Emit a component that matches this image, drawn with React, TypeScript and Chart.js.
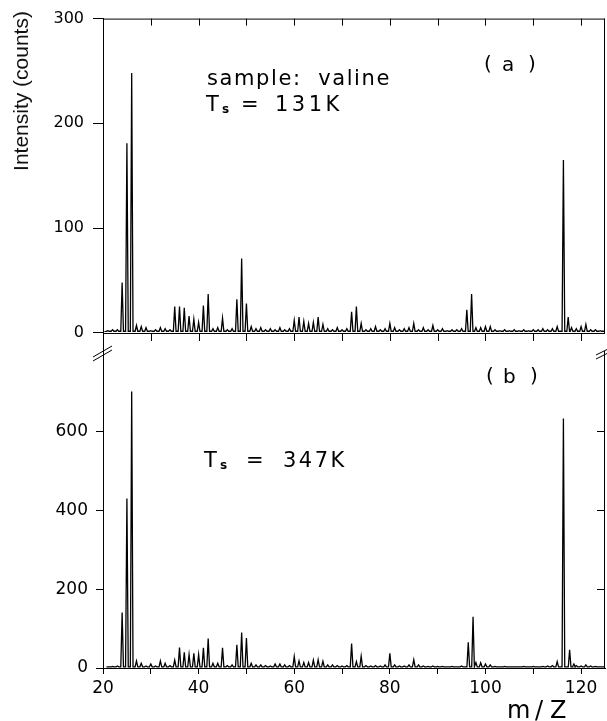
import React, { useEffect, useRef } from 'react';
import { Chart, registerables } from 'chart.js';

Chart.register(...registerables);

// ---- data ----
// panel (a): Ts = 131K
const massA = [
  21, 22, 23, 24, 25, 26, 27, 28, 29, 30,
  31, 32, 33, 34, 35, 36, 37, 38, 39, 40,
  41, 42, 43, 44, 45, 46, 47, 48, 49, 50,
  51, 52, 53, 54, 55, 56, 57, 58, 59, 60,
  61, 62, 63, 64, 65, 66, 67, 68, 69, 70,
  71, 72, 73, 74, 75, 76, 77, 78, 79, 80,
  81, 82, 83, 84, 85, 86, 87, 88, 89, 90,
  91, 92, 93, 94, 95, 96.1, 97.1, 98, 99, 100,
  101, 102, 103, 104, 105, 106, 107, 108, 109, 110,
  111, 112, 113, 114, 115, 116.3, 117.3, 118, 119, 120,
  121, 122, 123, 124,
];
const countsA = [
  2, 3, 3, 48, 181, 248, 7, 6, 5, 2,
  3, 5, 4, 3, 25, 25, 24, 16, 13, 10,
  26, 37, 4, 5, 14, 3, 4, 32, 71, 28,
  6, 4, 5, 3, 4, 3, 5, 3, 4, 12,
  15, 11, 9, 10, 15, 8, 4, 3, 5, 3,
  4, 20, 25, 9, 3, 4, 6, 3, 4, 9,
  5, 3, 4, 5, 9, 3, 5, 3, 7, 3,
  4, 2, 3, 3, 4, 22, 37, 5, 5, 6,
  6, 3, 2, 3, 2, 3, 2, 3, 2, 3,
  3, 4, 3, 4, 6, 165, 15, 5, 4, 6,
  8, 3, 3, 2,
];
// panel (b): Ts = 347K
const massB = [
  21, 22, 23, 24, 25, 26, 27, 28, 29, 30,
  31, 32, 33, 34, 35, 36, 37, 38, 39, 40,
  41, 42, 43, 44, 45, 46, 47, 48, 49, 50,
  51, 52, 53, 54, 55, 56, 57, 58, 59, 60,
  61, 62, 63, 64, 65, 66, 67, 68, 69, 70,
  71, 72, 73, 74, 75, 76, 77, 78, 79, 80,
  81, 82, 83, 84, 85, 86, 87, 88, 89, 90,
  91, 92, 93, 94, 95, 96.4, 97.4, 98, 99, 100,
  101, 102, 103, 104, 105, 106, 107, 108, 109, 110,
  111, 112, 113, 114, 115, 116.3, 117.6, 118.5, 119, 120,
  121, 122, 123, 124,
];
const countsB = [
  3, 4, 5, 141, 430, 701, 18, 12, 5, 10,
  5, 18, 12, 6, 20, 52, 40, 34, 37, 34,
  51, 75, 12, 12, 51, 6, 8, 59, 90, 76,
  12, 8, 8, 6, 5, 10, 10, 8, 6, 29,
  18, 14, 14, 20, 21, 17, 8, 8, 6, 5,
  6, 62, 16, 30, 6, 5, 6, 5, 8, 37,
  8, 5, 5, 8, 21, 8, 5, 4, 5, 4,
  4, 3, 4, 3, 5, 65, 130, 14, 13, 10,
  8, 4, 3, 4, 3, 3, 3, 4, 3, 4,
  3, 4, 5, 6, 16, 633, 46, 10, 6, 5,
  8, 5, 4, 3,
];
const baseA = 1.5;
const baseB = 3;

const xTickValues = [20, 30, 40, 50, 60, 70, 80, 90, 100, 110, 120];
const xLabelValues = [20, 40, 60, 80, 100, 120];
const yTicksA = [0, 100, 200, 300];
const yTicksB = [0, 200, 400, 600];

const FONT = '"DejaVu Sans", "Noto Sans", sans-serif';

function buildTrace(mass: number[], counts: number[], base: number, hw: number) {
  const pts: { x: number; y: number }[] = [{ x: 20.9, y: base }];
  mass.forEach((m, i) => {
    pts.push({ x: m - hw, y: base }, { x: m, y: counts[i] }, { x: m + hw, y: base });
  });
  pts.push({ x: 125, y: base });
  return pts;
}

function drawSpaced(ctx: CanvasRenderingContext2D, text: string, x: number, y: number, sp: number) {
  let cx = x;
  for (const ch of text) {
    ctx.fillText(ch, cx, y);
    cx += ctx.measureText(ch).width + sp;
  }
}

const decor = {
  id: 'decor',
  afterDraw(chart: any) {
    const { ctx, chartArea } = chart;
    const { left, right, top, bottom } = chartArea;
    const x = chart.scales.x;
    const yA = chart.scales.yA;
    const yB = chart.scales.yB;
    const midY = Math.round(yA.bottom);
    const line = (x1: number, y1: number, x2: number, y2: number) => {
      ctx.beginPath();
      ctx.moveTo(x1, y1);
      ctx.lineTo(x2, y2);
      ctx.stroke();
    };
    ctx.save();
    ctx.strokeStyle = '#000';
    ctx.lineWidth = 1;
    // panel (a) frame
    line(left, top + 0.5, right, top + 0.5);
    line(right - 0.5, top, right - 0.5, midY);
    line(left, midY + 0.5, right, midY + 0.5);
    xTickValues.forEach((v) => {
      const px = Math.round(x.getPixelForValue(v)) + 0.5;
      if (v > 20) line(px, top, px, top + 7);
      line(px, midY, px, midY + 8);
    });
    // panel (b) right axis
    const breakY = midY + 18;
    line(right - 0.5, breakY, right - 0.5, bottom);
    yTicksB.slice(1).forEach((v) => {
      const py = Math.round(yB.getPixelForValue(v)) + 0.5;
      line(right - 8, py, right, py);
    });
    // axis break marks
    line(left - 10, breakY + 6, left + 9, breakY - 5);
    line(left - 10, breakY + 10, left + 9, breakY - 1);
    line(right - 9, breakY + 4, right + 9, breakY - 5);
    line(right - 9, breakY + 8, right + 9, breakY - 1);

    // texts
    ctx.fillStyle = '#000';
    ctx.textBaseline = 'alphabetic';
    ctx.textAlign = 'left';
    ctx.font = `21px ${FONT}`;
    drawSpaced(ctx, 'sample:  valine', 207, 85, 1.6);
    // panel a label
    ctx.font = `20px ${FONT}`;
    ctx.fillText('(', 484, 70);
    ctx.fillText('a', 502, 71);
    ctx.fillText(')', 528, 70);
    // Ts = 131K
    ctx.font = `21px ${FONT}`;
    ctx.fillText('T', 206, 111);
    ctx.font = `bold 12px ${FONT}`;
    ctx.fillText('s', 222, 113);
    ctx.font = `21px ${FONT}`;
    ctx.fillText('=', 241, 111);
    drawSpaced(ctx, '131K', 275, 111, 3.5);
    // panel b label
    ctx.font = `20px ${FONT}`;
    ctx.fillText('(', 486, 382);
    ctx.fillText('b', 503, 383);
    ctx.fillText(')', 530, 382);
    // Ts = 347K
    ctx.font = `21px ${FONT}`;
    ctx.fillText('T', 204, 467);
    ctx.font = `bold 12px ${FONT}`;
    ctx.fillText('s', 220, 469);
    ctx.font = `21px ${FONT}`;
    ctx.fillText('=', 246, 467);
    drawSpaced(ctx, '347K', 283, 467, 2.5);
    // x title
    ctx.font = `24px ${FONT}`;
    ctx.fillText('m', 507, 718);
    ctx.fillText('/', 535, 718);
    ctx.fillText('Z', 550, 718);
    // y title
    ctx.save();
    ctx.translate(22, 91);
    ctx.rotate(-Math.PI / 2);
    ctx.font = '21px "Liberation Sans", Arial, sans-serif';
    ctx.textAlign = 'center';
    ctx.textBaseline = 'middle';
    ctx.fillStyle = '#111';
    ctx.fillText('Intensity (counts)', 0, 0);
    ctx.restore();
    ctx.restore();
  },
};

export default function App() {
  const ref = useRef<HTMLCanvasElement | null>(null);
  useEffect(() => {
    if (!ref.current) return;
    Chart.defaults.font.family = FONT;
    Chart.defaults.color = '#000';
    const chart = new Chart(ref.current, {
      type: 'line',
      data: {
        datasets: [
          {
            label: 'a',
            data: buildTrace(massA, countsA, baseA, 0.28),
            yAxisID: 'yA',
            xAxisID: 'x',
            borderColor: '#000',
            borderWidth: 1.3,
            pointRadius: 0,
            tension: 0,
          },
          {
            label: 'b',
            data: buildTrace(massB, countsB, baseB, 0.28),
            yAxisID: 'yB',
            xAxisID: 'x',
            borderColor: '#000',
            borderWidth: 1.3,
            pointRadius: 0,
            tension: 0,
          },
        ],
      },
      options: {
        animation: false,
        responsive: false,
        devicePixelRatio: 1,
        layout: { padding: { top: 17, right: 2, left: 0, bottom: 0 } },
        plugins: { legend: { display: false }, tooltip: { enabled: false } },
        scales: {
          x: {
            type: 'linear',
            min: 20,
            max: 125,
            position: 'bottom',
            afterBuildTicks: (s: any) => {
              s.ticks = xTickValues.map((v) => ({ value: v }));
            },
            afterFit: (s: any) => {
              s.height = 53;
            },
            ticks: {
              autoSkip: false,
              maxRotation: 0,
              padding: 4,
              font: { size: 17, family: FONT },
              color: '#000',
              callback: (v: any) => (xLabelValues.includes(Number(v)) ? String(v) : ''),
            },
            grid: { drawOnChartArea: false, drawTicks: true, tickLength: 6, tickColor: '#000' },
            border: { display: true, color: '#000', width: 1 },
          },
          yA: {
            type: 'linear',
            min: 0,
            max: 300,
            position: 'left',
            stack: 'v',
            stackWeight: 315,
            weight: 1,
            afterBuildTicks: (s: any) => {
              s.ticks = yTicksA.map((v) => ({ value: v }));
            },
            afterFit: (s: any) => {
              s.width = 103;
            },
            ticks: { padding: 9, font: { size: 16, family: FONT }, color: '#000' },
            grid: { drawOnChartArea: false, drawTicks: true, tickLength: 10, tickColor: '#000' },
            border: { display: true, color: '#000', width: 1 },
          },
          yB: {
            type: 'linear',
            min: 0,
            max: 850,
            position: 'left',
            stack: 'v',
            stackWeight: 336,
            weight: 0,
            afterBuildTicks: (s: any) => {
              s.ticks = yTicksB.map((v) => ({ value: v }));
            },
            afterFit: (s: any) => {
              s.width = 103;
            },
            ticks: { padding: 8, font: { size: 17, family: FONT }, color: '#000' },
            grid: { drawOnChartArea: false, drawTicks: true, tickLength: 7, tickColor: '#000' },
            border: { display: true, color: '#000', width: 1 },
          },
        },
      } as any,
      plugins: [decor],
    });
    return () => chart.destroy();
  }, []);
  return (
    <div style={{ position: 'absolute', left: 0, top: 0, width: 607, height: 721, background: '#fff' }}>
      <canvas ref={ref} width={607} height={721} style={{ width: 607, height: 721, display: 'block' }} />
    </div>
  );
}
